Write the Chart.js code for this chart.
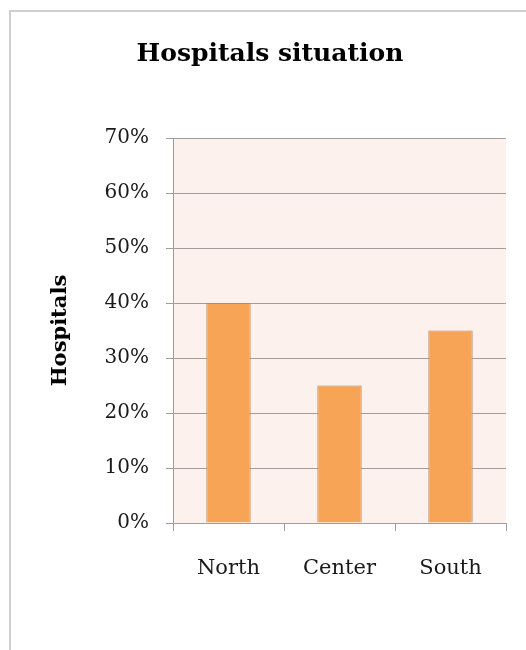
<!DOCTYPE html>
<html>
<head>
<meta charset="utf-8">
<script src="https://cdn.jsdelivr.net/npm/chart.js@4"></script>
<style>
  html, body { margin: 0; padding: 0; background: #fff; }
  #wrap { position: relative; width: 526px; height: 650px; overflow: hidden; }
  #frame {
    position: absolute; left: 9px; top: 10px; width: 1000px; height: 1000px;
    border-left: 2px solid #cfcfcf; border-top: 2px solid #cfcfcf;
    pointer-events: none;
  }
  canvas { position: absolute; left: 0; top: 0; }
</style>
</head>
<body>
<div id="wrap">
  <canvas id="chart" width="526" height="650"></canvas>
  <div id="frame"></div>
</div>
<script>
const regions = ['North', 'Center', 'South'];
const hospitalShare = [40, 25, 35];
const yMax = 70;
const yStep = 10;

const FONT = "'DejaVu Serif', serif";
const LINE = '#a19d9d';

// --- Pink fill behind the plot area ---
const plotBackground = {
  id: 'plotBackground',
  beforeDraw(chart) {
    const { ctx, chartArea: a } = chart;
    ctx.save();
    ctx.fillStyle = '#fdf1ee';
    ctx.fillRect(a.left, a.top, a.right - a.left, a.bottom - a.top);
    ctx.restore();
  }
};

const ctx = document.getElementById('chart').getContext('2d');
new Chart(ctx, {
  type: 'bar',
  data: {
    labels: regions,
    datasets: [{
      data: hospitalShare,
      backgroundColor: '#f8a457',
      borderColor: '#b98a5e',
      borderWidth: 1,
      barPercentage: 0.4,
      categoryPercentage: 1.0,
    }]
  },
  plugins: [plotBackground],
  options: {
    responsive: false,
    animation: false,
    layout: { padding: { left: 34, right: 20, top: 0, bottom: 0 } },
    plugins: {
      legend: { display: false },
      tooltip: { enabled: false },
      title: {
        display: true,
        text: 'Hospitals situation',
        color: '#000',
        font: { family: FONT, size: 25, weight: 'bold' },
        padding: { top: 39, bottom: 69 },
      }
    },
    scales: {
      x: {
        grid: { drawOnChartArea: false, drawTicks: true, tickLength: 8, color: LINE, offset: true },
        border: { color: LINE, width: 1 },
        ticks: { color: '#1a1a1a', font: { family: FONT, size: 21 }, padding: 25 },
        afterFit(scale) { scale.height = 127; }
      },
      y: {
        min: 0,
        max: yMax,
        grid: { color: LINE, tickLength: 7 },
        border: { color: LINE, width: 1 },
        ticks: {
          stepSize: yStep,
          color: '#1a1a1a',
          font: { family: FONT, size: 20 },
          padding: 17,
          callback: v => v + '%'
        },
        title: {
          display: true,
          text: 'Hospitals',
          color: '#000',
          font: { family: FONT, size: 21, weight: 'bold' },
          padding: { top: 14, bottom: 0 }
        },
        afterFit(scale) { scale.width = 139; }
      }
    }
  }
});
</script>
</body>
</html>
